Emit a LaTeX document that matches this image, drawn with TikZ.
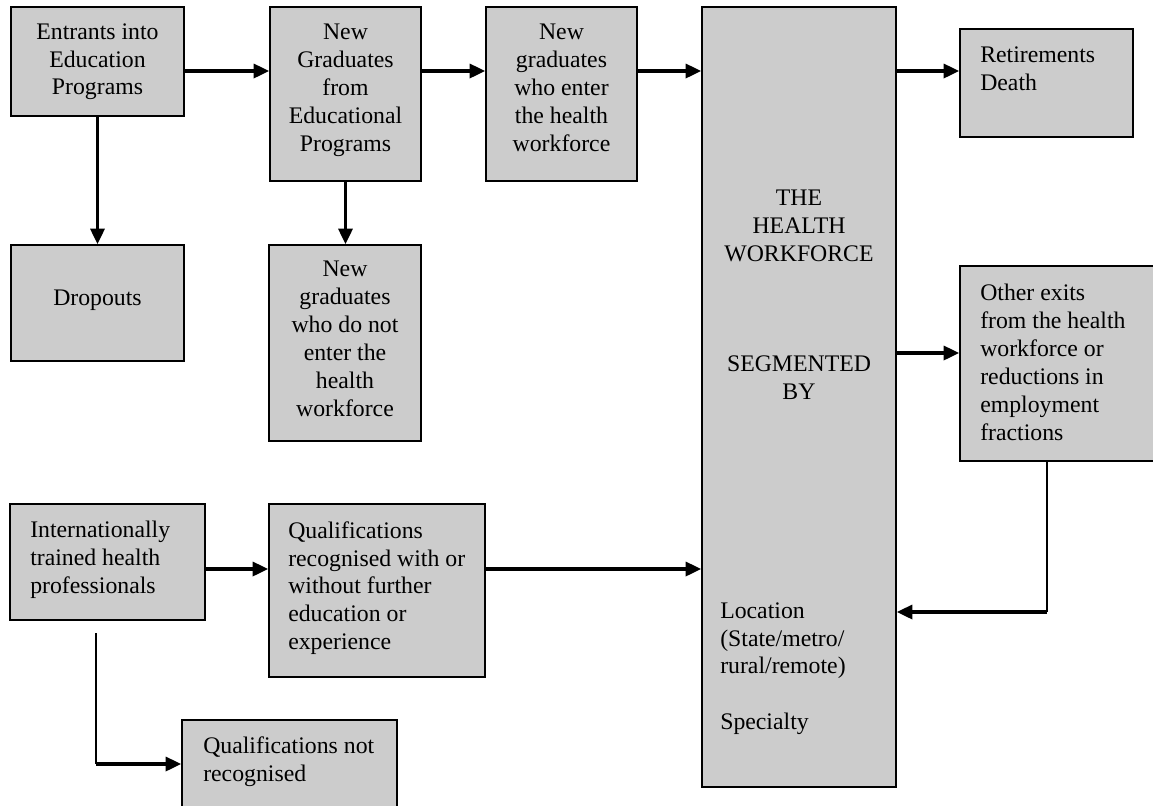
\documentclass[tikz,border=0pt]{standalone}
\usepackage{fontspec}
\setmainfont{Liberation Serif}
\usetikzlibrary{arrows.meta,fit}

\tikzset{
        stock/.style={draw=black, fill=black!20, line width=1.2pt, inner sep=0pt},
        words/.style={inner sep=0pt, font=\fontsize{16.9}{19.9}\selectfont},
        flow/.style={->, line width=2.2pt},
        link/.style={line width=1.1pt}
}

\begin{document}
\begin{tikzpicture}[x=0.025cm, y=-0.025cm, >={Triangle[length=11pt,width=10pt]}]
                \path[use as bounding box] (0,0) rectangle (1153,805);
                \clip (0,0) rectangle (1153,805);
                \node[stock, fit={(11,7) (184,116)}] (entr) {};
                \node[stock, fit={(270,7) (421,181)}] (grad) {};
                \node[stock, fit={(486,7) (637,181)}] (enter) {};
                \node[stock, fit={(702,7) (896,787)}] (hw) {};
                \node[stock, fit={(960,29) (1133,137)}] (retire) {};
                \node[stock, fit={(960,266) (1170,461)}] (other) {};
                \node[stock, fit={(11,245) (184,361)}] (drop) {};
                \node[stock, fit={(269,245) (421,441)}] (noenter) {};
                \node[stock, fit={(10,504) (205,620)}] (intl) {};
                \node[stock, fit={(269,504) (485,677)}] (qualrec) {};
                \node[stock, fit={(182,720) (397,830)}] (qualnot) {};
                \node[words, anchor=north, align=center] (entrtxt) at (97.5,23) {Entrants into\\Education\\Programs};
                \node[words, anchor=north, align=center] (gradtxt) at (345.5,23.5) {New\\Graduates\\from\\Educational\\Programs};
                \node[words, anchor=north, align=center] (entertxt) at (561.5,23.5) {New\\graduates\\who enter\\the health\\workforce};
                \node[words, anchor=north, align=center] (noentertxt) at (345,261) {New\\graduates\\who do not\\enter the\\health\\workforce};
                \node[words] (droptxt) at (97.5,300) {Dropouts};
                \node[words, anchor=north, align=center] (hwtxt) at (799,189.5) {THE\\HEALTH\\WORKFORCE};
                \node[words, anchor=north, align=center] (segtxt) at (799,355.5) {SEGMENTED\\BY};
                \node[words, anchor=north west, align=left] (loctxt) at (720,602) {Location\\(State/metro/\\rural/remote)\\[19.9pt]Specialty};
                \node[words, anchor=north west, align=left] (retiretxt) at (980,46) {Retirements\\Death};
                \node[words, anchor=north west, align=left] (othertxt) at (980,284) {Other exits\\from the health\\workforce or\\reductions in\\employment\\fractions};
                \node[words, anchor=north west, align=left] (intltxt) at (30,521) {Internationally\\trained health\\professionals};
                \node[words, anchor=north west, align=left] (qualrectxt) at (288,521) {Qualifications\\recognised with or\\without further\\education or\\experience};
                \node[words, anchor=north west, align=left] (qualnottxt) at (203,736) {Qualifications not\\recognised};
                \coordinate (toprow) at (0,71);
                \coordinate (exitrow) at (0,353);
                \coordinate (lowrow) at (0,569);
                \coordinate (intlfoot) at (96,633);
                \coordinate (intlbend) at (96,764);
                \coordinate (fbbend) at (1047,612);
                \draw[flow] (entr.east |- toprow) -- (grad.west |- toprow);
                \draw[flow] (grad.east |- toprow) -- (enter.west |- toprow);
                \draw[flow] (enter.east |- toprow) -- (hw.west |- toprow);
                \draw[flow] (hw.east |- toprow) -- (retire.west |- toprow);
                \draw[flow] (hw.east |- exitrow) -- (other.west |- exitrow);
                \draw[flow] (entr.south) -- (drop.north);
                \draw[flow] (grad.south) -- (grad.south |- noenter.north);
                \draw[flow] (intl.east |- lowrow) -- (qualrec.west |- lowrow);
                \draw[flow] (qualrec.east |- lowrow) -- (hw.west |- lowrow);
                \draw[link] (intlfoot) -- (intlbend);
                \draw[flow] (intlbend) -- (qualnot.west |- intlbend);
                \draw[link] (other.south -| fbbend) -- (fbbend);
                \draw[flow] (fbbend) -- (hw.east |- fbbend);
        \end{tikzpicture}
\end{document}
